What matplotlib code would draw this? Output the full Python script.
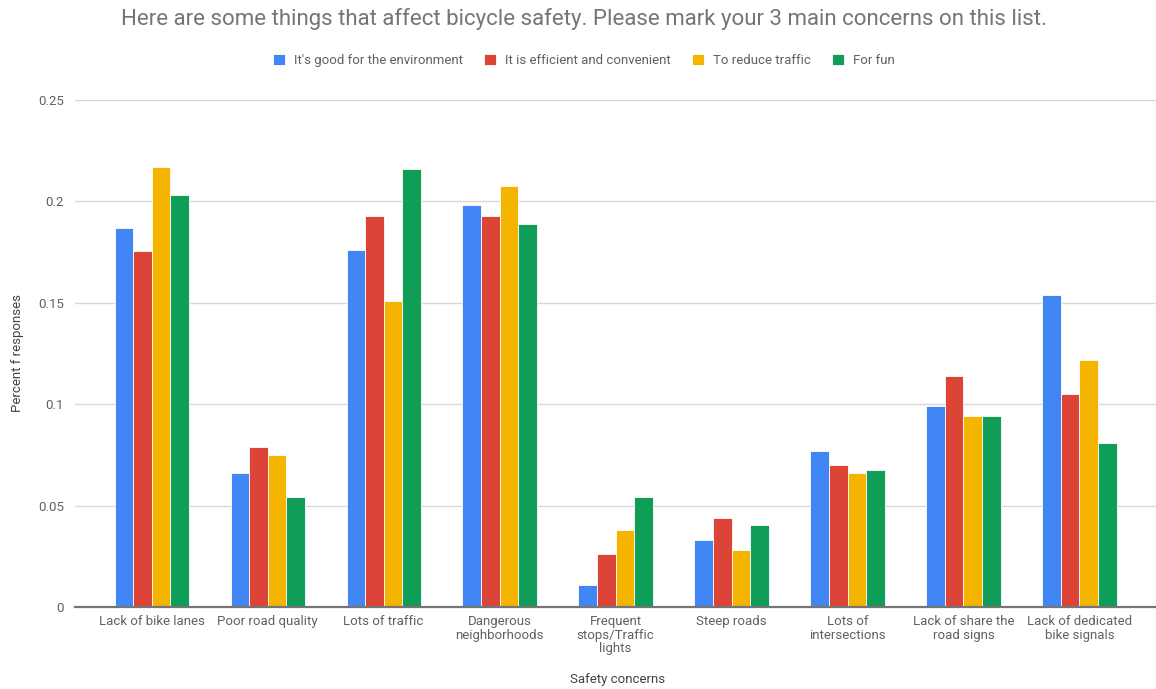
import numpy as np
import matplotlib
matplotlib.use("Agg")
import matplotlib.pyplot as plt

plt.rcParams["font.family"] = ["Roboto", "DejaVu Sans"]

# Chart data
categories = [
    "Lack of bike lanes", "Poor road quality", "Lots of traffic",
    "Dangerous\nneighborhoods", "Frequent\nstops/Traffic\nlights", "Steep roads",
    "Lots of\nintersections", "Lack of share the\nroad signs", "Lack of dedicated\nbike signals",
]
series_names = [
    "It's good for the environment", "It is efficient and convenient",
    "To reduce traffic", "For fun",
]
environment = [0.187, 0.066, 0.176, 0.198, 0.011, 0.033, 0.077, 0.099, 0.154]
efficient = [0.1755, 0.079, 0.193, 0.193, 0.026, 0.044, 0.070, 0.114, 0.105]
reduce_traffic = [0.217, 0.075, 0.151, 0.2075, 0.038, 0.028, 0.066, 0.094, 0.122]
for_fun = [0.203, 0.054, 0.216, 0.189, 0.054, 0.0405, 0.0675, 0.094, 0.081]
yticks = [0, 0.05, 0.1, 0.15, 0.2, 0.25]
ytick_labels = ["0", "0.05", "0.1", "0.15", "0.2", "0.25"]

colors = ["#4285f4", "#db4437", "#f4b400", "#0f9d58"]
text_grey = "#616161"

fig = plt.figure(figsize=(11.56, 6.89), dpi=100)
ax = fig.add_axes([0.065, 0.119, 0.935, 0.736])

x = np.arange(len(categories))
width = 0.16
all_series = [environment, efficient, reduce_traffic, for_fun]
for i, (vals, name, col) in enumerate(zip(all_series, series_names, colors)):
    ax.bar(x + (i - 1.5) * width, vals, width, color=col, label=name,
           edgecolor="white", linewidth=0.6, zorder=3)

ax.set_xlim(-0.66, len(categories) - 0.34)
ax.set_ylim(0, 0.25)
ax.set_yticks(yticks)
ax.set_yticklabels(ytick_labels)
ax.set_xticks(x)
ax.set_xticklabels(categories, fontsize=9.5, color=text_grey, linespacing=1.05)
ax.tick_params(axis="y", length=0, labelsize=9.5, labelcolor=text_grey, pad=8)
ax.tick_params(axis="x", length=0, pad=6)
ax.grid(axis="y", color="#d9d9d9", linewidth=1, zorder=0)
for side in ["top", "right", "left"]:
    ax.spines[side].set_visible(False)
ax.spines["bottom"].set_color("#757575")
ax.spines["bottom"].set_linewidth(1.6)
ax.spines["bottom"].set_zorder(4)

ax.set_ylabel("Percent f responses", fontsize=9.5, color="#424242")
ax.set_xlabel("Safety concerns", fontsize=9.5, color="#424242")
ax.yaxis.set_label_coords(-0.047, 0.5)
ax.xaxis.set_label_coords(0.502, -0.13)

fig.text(0.505, 0.972, "Here are some things that affect bicycle safety. Please mark your 3 main concerns on this list.",
         ha="center", va="center", fontsize=16, color="#757575")

fig.legend(loc="center", bbox_to_anchor=(0.505, 0.912), ncol=4, frameon=False,
           fontsize=9.5, handlelength=0.9, handleheight=0.9, handletextpad=0.7,
           columnspacing=1.6, labelcolor=text_grey)

fig.savefig("out.png", dpi=100)
plt.close(fig)
